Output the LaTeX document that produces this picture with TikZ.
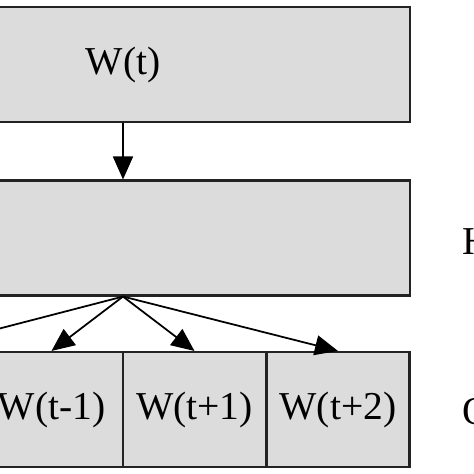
\documentclass[tikz,border=0pt]{standalone}
\usepackage{fontspec}
\setmainfont{Liberation Serif}
\usetikzlibrary{arrows.meta}
\definecolor{boxgray}{RGB}{220,220,220}
\definecolor{edgegray}{RGB}{35,35,35}
\tikzset{
	layerbox/.style={draw=edgegray, fill=boxgray, line width=1.2pt, inner sep=0pt, minimum height=2.3cm},
	wordbox/.style={layerbox, minimum width=2.86cm},
	link/.style={draw=black, line width=1pt, -{Triangle[length=0.46cm,width=0.4cm]}},
	sidelabel/.style={anchor=west, inner sep=0pt}
}

\begin{document}
\begin{tikzpicture}[x=0.02cm, y=-0.02cm, font=\fontsize{22.5}{27}\selectfont]
			%%%%% START %%%%%
			\useasboundingbox (0,0) rectangle (474,474);
			\clip (0,0) rectangle (474,474);
			
			\node[layerbox, minimum width=11.48cm] (input) at (123, 64.5) {W(t)};
			\node[layerbox, minimum width=11.48cm] (proj) at (123, 238) {};
			
			\node[wordbox] (wm1) at (51.5, 409.5) {W(t-1)};
			\node[wordbox] (wp1) at (194.5, 409.5) {W(t+1)};
			\node[wordbox] (wp2) at (338, 409.5) {W(t+2)};
			\coordinate (wm2) at (-91, 352);
			
			\node[sidelabel] (hlab) at (462, 242) {H};
			\node[sidelabel] (olab) at (462, 412) {O};
			
			\draw[link] (input) -- (proj);
			\draw[link] (proj.south) -- (wm2);
			\draw[link] (proj.south) -- (wm1.north);
			\draw[link] (proj.south) -- (wp1.north);
			\draw[link] (proj.south) -- (wp2.north);
			%%%%% END %%%%%
\end{tikzpicture}
\end{document}
